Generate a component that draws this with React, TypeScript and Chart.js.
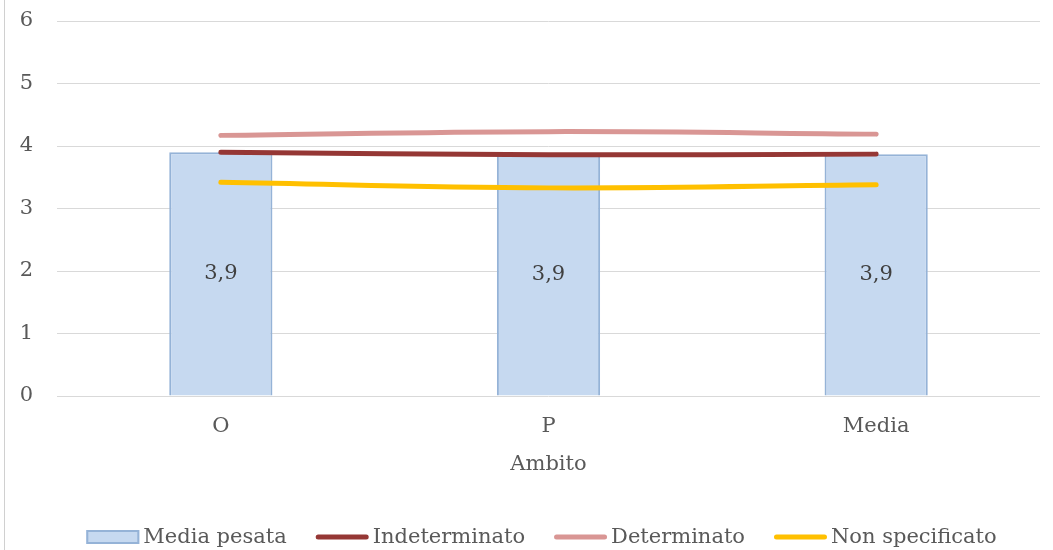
import React, { useEffect, useRef } from "react";
import { Chart, registerables } from "chart.js";

Chart.register(...registerables);

const categories = ["O", "P", "Media"];
const mediaPesata = [3.9, 3.87, 3.87];
const indeterminato = [3.9, 3.86, 3.87];
const determinato = [4.17, 4.23, 4.19];
const nonSpecificato = [3.42, 3.33, 3.38];
const barLabels = ["3,9", "3,9", "3,9"];
const seriesNames = ["Media pesata", "Indeterminato", "Determinato", "Non specificato"];
const xTitle = "Ambito";

const FONT = "'DejaVu Serif', serif";
const FS = 21;
const TEXT = "#595959";
const BAR_FILL = "#c6d9f0";
const BAR_BORDER = "#95b3d7";
const C_IND = "#953735";
const C_DET = "#d99694";
const C_NON = "#ffc000";

const frameAndLabels = {
  id: "frameAndLabels",
  beforeDraw(chart: any) {
    const ctx = chart.ctx;
    ctx.save();
    ctx.strokeStyle = "#d0d0d0";
    ctx.lineWidth = 1;
    ctx.beginPath();
    ctx.moveTo(4.5, 0);
    ctx.lineTo(4.5, chart.height);
    ctx.stroke();
    ctx.restore();
  },
  afterDatasetsDraw(chart: any) {
    const ctx = chart.ctx;
    const meta = chart.getDatasetMeta(0);
    ctx.save();
    ctx.font = `${FS}px ${FONT}`;
    ctx.fillStyle = "#404040";
    ctx.textAlign = "center";
    ctx.textBaseline = "middle";
    meta.data.forEach((bar: any, i: number) => {
      const y = (bar.y + bar.base) / 2;
      ctx.fillText(barLabels[i], bar.x, y);
    });
    ctx.restore();
  },
  afterDraw(chart: any) {
    const ctx = chart.ctx;
    ctx.save();
    ctx.font = `${FS}px ${FONT}`;
    ctx.textBaseline = "middle";
    ctx.textAlign = "left";
    const symW = 53;
    const g1 = 4;
    const g2 = 29;
    const colors = [null, C_IND, C_DET, C_NON];
    const widths = seriesNames.map((n) => ctx.measureText(n).width);
    let total = 0;
    widths.forEach((w, i) => {
      total += symW + g1 + w + (i < widths.length - 1 ? g2 : 0);
    });
    let x = 541.5 - total / 2;
    const y = 537;
    seriesNames.forEach((name, i) => {
      if (i === 0) {
        ctx.fillStyle = BAR_FILL;
        ctx.fillRect(x, y - 7, symW, 14);
        ctx.strokeStyle = BAR_BORDER;
        ctx.lineWidth = 2;
        ctx.strokeRect(x + 1, y - 6, symW - 2, 12);
      } else {
        ctx.strokeStyle = colors[i] as string;
        ctx.lineWidth = 5;
        ctx.lineCap = "round";
        ctx.beginPath();
        ctx.moveTo(x + 2.5, y);
        ctx.lineTo(x + symW - 2.5, y);
        ctx.stroke();
      }
      ctx.fillStyle = TEXT;
      ctx.fillText(name, x + symW + g1, y + 1);
      x += symW + g1 + widths[i] + g2;
    });
    ctx.restore();
  },
};

export default function App() {
  const ref = useRef<HTMLCanvasElement>(null);
  useEffect(() => {
    if (!ref.current) return;
    const lineDs = (label: string, data: number[], color: string) => ({
      type: "line" as const,
      label,
      data,
      borderColor: color,
      backgroundColor: color,
      borderWidth: 5,
      borderCapStyle: "round" as const,
      pointRadius: 0,
      pointHoverRadius: 0,
      tension: 0.4,
      fill: false,
      order: 0,
    });
    const chart = new Chart(ref.current, {
      type: "bar",
      data: {
        labels: categories,
        datasets: [
          {
            type: "bar",
            label: seriesNames[0],
            data: mediaPesata,
            backgroundColor: BAR_FILL,
            borderColor: BAR_BORDER,
            borderWidth: 2,
            categoryPercentage: 1,
            barPercentage: 0.315,
            order: 1,
          } as any,
          lineDs(seriesNames[1], indeterminato, C_IND),
          lineDs(seriesNames[2], determinato, C_DET),
          lineDs(seriesNames[3], nonSpecificato, C_NON),
        ],
      },
      options: {
        animation: false,
        responsive: false,
        maintainAspectRatio: false,
        layout: { padding: { top: 21, right: 13, bottom: 70, left: 0 } },
        plugins: {
          legend: { display: false },
          tooltip: { enabled: false },
        },
        scales: {
          x: {
            grid: { display: false, drawTicks: false },
            border: { display: false },
            ticks: { font: { family: FONT, size: FS }, color: TEXT, padding: 18 },
            title: {
              display: true,
              text: xTitle,
              font: { family: FONT, size: FS },
              color: TEXT,
              padding: { top: 0, bottom: 3 },
            },
            afterFit: (s: any) => {
              s.height = 84;
              s.paddingLeft = 0;
              s.paddingRight = 0;
            },
          },
          y: {
            min: 0,
            max: 6,
            ticks: { stepSize: 1, font: { family: FONT, size: FS }, color: TEXT, padding: 24 },
            grid: { color: "#d9d9d9", lineWidth: 1, drawTicks: false },
            border: { display: false },
            afterFit: (s: any) => {
              s.width = 57;
              s.paddingTop = 0;
              s.paddingBottom = 0;
            },
          },
        },
      },
      plugins: [frameAndLabels],
    });
    return () => chart.destroy();
  }, []);
  return (
    <div style={{ position: "absolute", left: 0, top: 0, width: 1053, height: 550, background: "#fff" }}>
      <canvas ref={ref} width={1053} height={550} style={{ display: "block" }} />
    </div>
  );
}
